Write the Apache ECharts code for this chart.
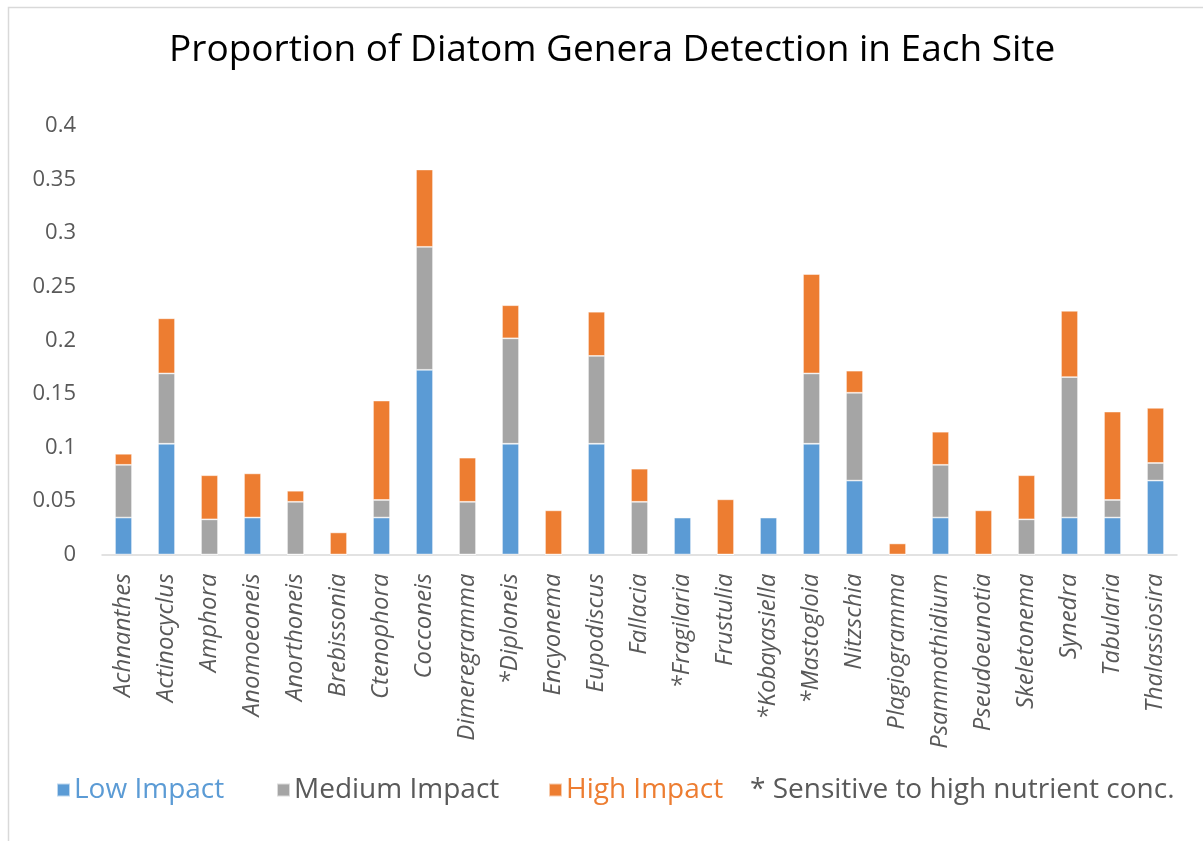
<!DOCTYPE html>
<html>
<head>
<meta charset="utf-8">
<script src="https://cdn.jsdelivr.net/npm/echarts@6/dist/echarts.min.js"></script>
<style>html,body{margin:0;padding:0;background:#fff;}#c{width:1203px;height:841px;}</style>
</head>
<body>
<div id="c"></div>
<script>
const categories = ['Achnanthes','Actinocyclus','Amphora','Anomoeoneis','Anorthoneis','Brebissonia','Ctenophora','Cocconeis','Dimeregramma','*Diploneis','Encyonema','Eupodiscus','Fallacia','*Fragilaria','Frustulia','*Kobayasiella','*Mastogloia','Nitzschia','Plagiogramma','Psammothidium','Pseudoeunotia','Skeletonema','Synedra','Tabularia','Thalassiosira'];
const lowImpact    = [0.0345,0.1034,0,0.0345,0,0,0.0345,0.1724,0,0.1034,0,0.1034,0,0.0345,0,0.0345,0.1034,0.069,0,0.0345,0,0,0.0345,0.0345,0.069];
const mediumImpact = [0.0492,0.0656,0.0328,0,0.0492,0,0.0164,0.1148,0.0492,0.0984,0,0.082,0.0492,0,0,0,0.0656,0.082,0,0.0492,0,0.0328,0.1311,0.0164,0.0164];
const highImpact   = [0.0103,0.0515,0.0412,0.0412,0.0103,0.0206,0.0928,0.0722,0.0412,0.0309,0.0412,0.0412,0.0309,0,0.0515,0,0.0928,0.0206,0.0103,0.0309,0.0412,0.0412,0.0619,0.0825,0.0515];
const seriesNames = ['Low Impact','Medium Impact','High Impact'];
const noteText = '* Sensitive to high nutrient conc.';
const titleText = 'Proportion of Diatom Genera Detection in Each Site';

const colors = ['#5b9bd5','#a5a5a5','#ed7d31'];
const textColors = ['#5b9bd5','#595959','#ed7d31'];
const legendLeft = [51, 271, 543];
const FONT = '"Open Sans", "Noto Sans", sans-serif';

const chart = echarts.init(document.getElementById('c'), null, {renderer:'canvas'});
const dataSets = [lowImpact, mediumImpact, highImpact];
chart.setOption({
  animation:false,
  backgroundColor:'#fff',
  textStyle:{fontFamily:FONT},
  title:{
    text:titleText, left:164, top:27,
    textStyle:{fontFamily:FONT, fontSize:37, fontWeight:'normal', color:'#000'}
  },
  legend:seriesNames.map((n,i)=>({
    left:legendLeft[i], top:771, itemWidth:13, itemHeight:13,
    icon:'rect',
    data:[{name:n, textStyle:{color:textColors[i]}}],
    textStyle:{fontFamily:FONT, fontSize:28, padding:[0,0,0,-1]}
  })),
  graphic:[
    {type:'rect', shape:{x:8.5,y:7.5,width:1400,height:1000}, style:{fill:'none', stroke:'#d9d9d9', lineWidth:1.5}, silent:true},
    {type:'text', left:750, top:776, style:{text:noteText, fill:'#595959', font:'28px ' + FONT}}
  ],
  grid:{left:102, right:26, top:126, bottom:286.5, containLabel:false},
  xAxis:{
    type:'category', data:categories,
    axisLine:{lineStyle:{color:'#d9d9d9', width:1.5}},
    axisTick:{show:false},
    axisLabel:{rotate:90, interval:0, margin:19, fontSize:24, fontStyle:'italic', color:'#595959', fontFamily:FONT}
  },
  yAxis:{
    type:'value', min:0, max:0.4, interval:0.05,
    axisLine:{show:false}, axisTick:{show:false},
    splitLine:{show:false},
    axisLabel:{fontSize:22, color:'#595959', margin:26, fontFamily:FONT}
  },
  series:dataSets.map((d,i)=>({
    name:seriesNames[i], type:'bar', stack:'total', data:d, barWidth:17,
    itemStyle:{color:colors[i], borderColor:'rgba(255,255,255,0.6)', borderWidth:0.8}
  }))
});
</script>
</body>
</html>
